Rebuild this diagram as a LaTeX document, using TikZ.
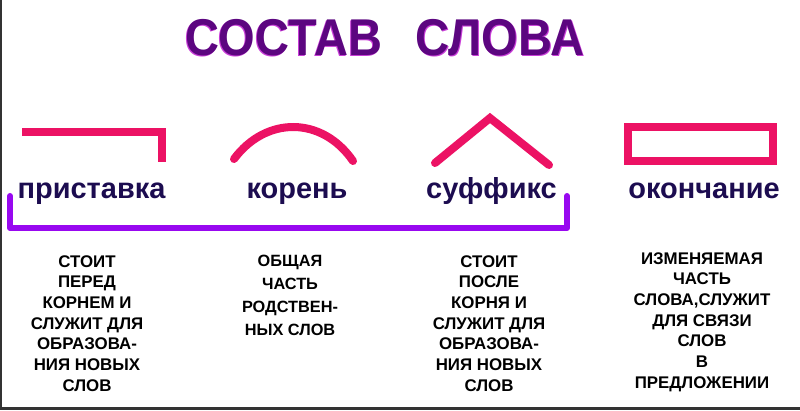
\documentclass[tikz,border=0pt]{standalone}
\usepackage{fontspec}
\setmainfont{Liberation Sans}
\usepackage{graphicx}
\usepackage{xcolor}
\usetikzlibrary{positioning,calc}

\definecolor{titlepurple}{RGB}{92,6,128}
\definecolor{titleglow}{RGB}{200,60,215}
\definecolor{morphpink}{RGB}{236,18,100}
\definecolor{stemviolet}{RGB}{152,8,240}
\definecolor{partnavy}{RGB}{28,12,80}

\begin{document}
\begin{tikzpicture}[x=0.025cm, y=-0.025cm,
    titleword/.style={inner sep=0, anchor=base, font=\bfseries\fontsize{36.8}{40}\selectfont},
    part/.style={inner sep=0, anchor=base, text=partnavy, font=\bfseries\fontsize{20.6}{24}\selectfont},
    note/.style={inner sep=0, anchor=north, align=center, font=\bfseries\fontsize{12}{14.7}\selectfont},
    morph/.style={draw=morphpink, line width=5.7pt},
    stem/.style={draw=stemviolet, line width=4.3pt, line cap=round, line join=round}]
    \useasboundingbox (0,0) rectangle (800,410);
    % frame of the screenshot
    \fill[black!80] (0,0) rectangle (2,410);
    \fill[black!80] (0,407) rectangle (800,410);

    % title, with its glow behind
    \node [titleword, text=titleglow] (glow1) at (283,56) {\scalebox{0.91}[1]{СОСТАВ}};
    \node [titleword, text=titleglow] (glow2) at (501,56) {\scalebox{0.91}[1]{СЛОВА}};
    \node [titleword, text=titlepurple] (title1) at (284,55) {\scalebox{0.91}[1]{СОСТАВ}};
    \node [titleword, text=titlepurple] (title2) at (500,55) {\scalebox{0.91}[1]{СЛОВА}};

    % signs of the parts
    \draw [morph] (22,132) -- (162,132) -- (162,162);
    \draw [morph, line cap=round] (234,159) .. controls (266,116) and (322,116) .. (353,161);
    \draw [morph, line cap=round, line join=miter] (435,163) -- (490,118) -- (549,165);
    \draw [morph] (628,127) rectangle (773,161);

    % names of the parts
    \node [part] (prefix) at (91.5,198) {приставка};
    \node [part] (root) at (297,198) {корень};
    \node [part] (suffix) at (491.5,198) {суффикс};
    \node [part] (ending) at (704,198) {окончание};

    % stem bracket
    \draw [stem] (10,196) -- (10,228) -- (567,228) -- (567,196);

    % what each part does
    \node [note] (prefixnote) at (87,255) {
        СТОИТ \\
        ПЕРЕД \\
        КОРНЕМ И \\
        СЛУЖИТ ДЛЯ \\
        ОБРАЗОВА- \\
        НИЯ НОВЫХ \\
        СЛОВ
    };
    \node [note, font=\bfseries\fontsize{11.6}{16.2}\selectfont] (rootnote) at (290,255) {
        ОБЩАЯ \\
        ЧАСТЬ \\
        РОДСТВЕН- \\
        НЫХ СЛОВ
    };
    \node [note] (suffixnote) at (489,255) {
        СТОИТ \\
        ПОСЛЕ \\
        КОРНЯ И \\
        СЛУЖИТ ДЛЯ \\
        ОБРАЗОВА- \\
        НИЯ НОВЫХ \\
        СЛОВ
    };
    \node [note] (endingnote) at (702,252) {
        ИЗМЕНЯЕМАЯ \\
        ЧАСТЬ \\
        СЛОВА,СЛУЖИТ \\
        ДЛЯ СВЯЗИ \\
        СЛОВ \\
        В \\
        ПРЕДЛОЖЕНИИ
    };
\end{tikzpicture}
\end{document}
